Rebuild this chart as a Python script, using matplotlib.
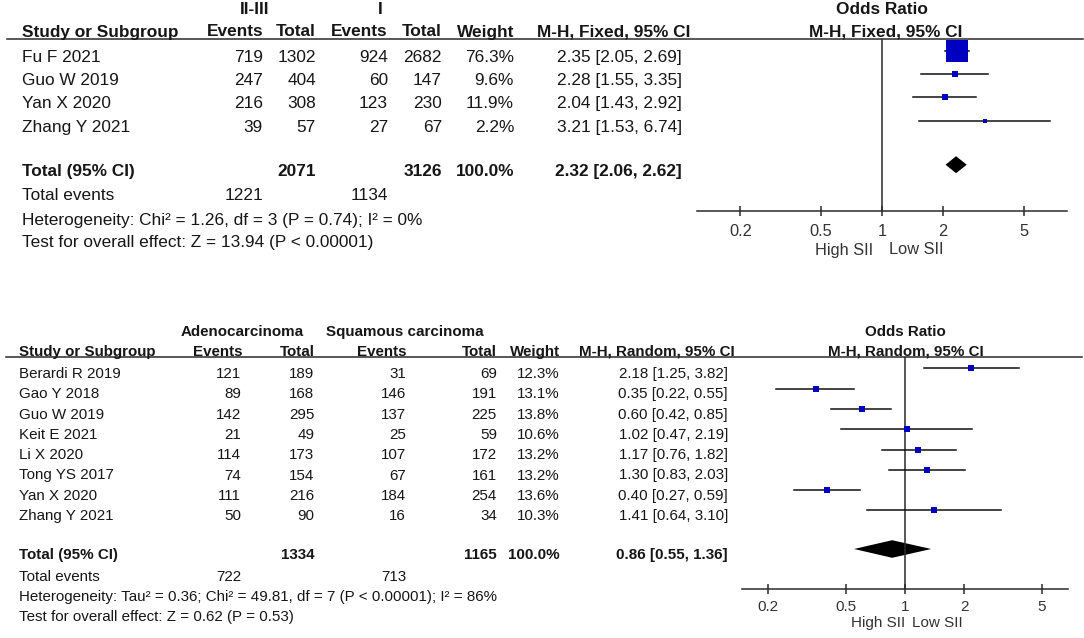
import numpy as np
import matplotlib
matplotlib.use("Agg")
import matplotlib.pyplot as plt
from matplotlib.ticker import NullLocator

plt.rcParams['font.family'] = ['Liberation Sans', 'DejaVu Sans']

# ---- data: upper plot (II-III vs I) ----
top_studies = ["Fu F 2021", "Guo W 2019", "Yan X 2020", "Zhang Y 2021"]
top_ev1 = [719, 247, 216, 39]
top_tot1 = [1302, 404, 308, 57]
top_ev2 = [924, 60, 123, 27]
top_tot2 = [2682, 147, 230, 67]
top_weight = [76.3, 9.6, 11.9, 2.2]
top_or = [2.35, 2.28, 2.04, 3.21]
top_lo = [2.05, 1.55, 1.43, 1.53]
top_hi = [2.69, 3.35, 2.92, 6.74]
top_sum_tot = [2071, 3126]
top_sum_ev = [1221, 1134]
top_pooled = [2.32, 2.06, 2.62]
top_het = "Heterogeneity: Chi² = 1.26, df = 3 (P = 0.74); I² = 0%"
top_test = "Test for overall effect: Z = 13.94 (P < 0.00001)"

# ---- data: lower plot (Adenocarcinoma vs Squamous carcinoma) ----
bot_studies = ["Berardi R 2019", "Gao Y 2018", "Guo W 2019", "Keit E 2021",
               "Li X 2020", "Tong YS 2017", "Yan X 2020", "Zhang Y 2021"]
bot_ev1 = [121, 89, 142, 21, 114, 74, 111, 50]
bot_tot1 = [189, 168, 295, 49, 173, 154, 216, 90]
bot_ev2 = [31, 146, 137, 25, 107, 67, 184, 16]
bot_tot2 = [69, 191, 225, 59, 172, 161, 254, 34]
bot_weight = [12.3, 13.1, 13.8, 10.6, 13.2, 13.2, 13.6, 10.3]
bot_or = [2.18, 0.35, 0.60, 1.02, 1.17, 1.30, 0.40, 1.41]
bot_lo = [1.25, 0.22, 0.42, 0.47, 0.76, 0.83, 0.27, 0.64]
bot_hi = [3.82, 0.55, 0.85, 2.19, 1.82, 2.03, 0.59, 3.10]
bot_sum_tot = [1334, 1165]
bot_sum_ev = [722, 713]
bot_pooled = [0.86, 0.55, 1.36]
bot_het = "Heterogeneity: Tau² = 0.36; Chi² = 49.81, df = 7 (P < 0.00001); I² = 86%"
bot_test = "Test for overall effect: Z = 0.62 (P = 0.53)"

tick_vals = [0.2, 0.5, 1, 2, 5]
tick_labels = ["0.2", "0.5", "1", "2", "5"]

TXT = '#161616'
LINE = '#2a2a2a'
BLUE = '#0000c0'

W, H = 1084, 638
fig = plt.figure(figsize=(W / 100, H / 100), dpi=100)
bg = fig.add_axes([0, 0, 1, 1])
bg.set_xlim(0, W)
bg.set_ylim(H, 0)
bg.axis('off')


def fmt_ci(o, l, h):
    return "%.2f [%.2f, %.2f]" % (o, l, h)


def forest_axes(left, right, top, bottom, x_one, px_dec, fs, pad):
    ax = fig.add_axes([left / W, 1 - bottom / H, (right - left) / W, (bottom - top) / H])
    ax.set_facecolor('none')
    ax.set_xscale('log')
    ax.set_xlim(10 ** ((left - x_one) / px_dec), 10 ** ((right - x_one) / px_dec))
    ax.set_ylim(bottom, top)
    for s in ['top', 'left', 'right']:
        ax.spines[s].set_visible(False)
    ax.spines['bottom'].set_linewidth(1.1)
    ax.spines['bottom'].set_color(LINE)
    ax.set_yticks([])
    ax.set_xticks(tick_vals)
    ax.set_xticklabels(tick_labels)
    ax.xaxis.set_minor_locator(NullLocator())
    ax.tick_params(axis='x', direction='inout', length=6.5, width=1.1, color=LINE,
                   labelsize=fs, labelcolor='#333333', pad=pad)
    ax.axvline(1, color=LINE, lw=1.1)
    return ax


def draw_panel(cfg):
    fs = cfg['fs']
    # 列見出し
    for label, xc in cfg['group_hdr']:
        bg.text(xc, cfg['hdr1'], label, ha='center', va='baseline', fontsize=fs,
                fontweight='bold', color=TXT)
    bg.text(cfg['left'], cfg['hdr2'], "Study or Subgroup", ha='left', va='baseline',
            fontsize=fs, fontweight='bold', color=TXT)
    for label, xr in zip(["Events", "Total", "Events", "Total", "Weight", cfg['method']],
                         cfg['hdr_cols']):
        bg.text(xr, cfg['hdr2'], label, ha='right', va='baseline', fontsize=fs,
                fontweight='bold', color=TXT)
    bg.text(cfg['x_one'], cfg['hdr1'], "Odds Ratio", ha='center', va='baseline',
            fontsize=fs, fontweight='bold', color=TXT)
    bg.text(cfg['x_one'] + cfg['hdr_shift'], cfg['hdr2'], cfg['method'], ha='center',
            va='baseline', fontsize=fs, fontweight='bold', color=TXT)
    bg.plot([cfg['line_x0'], cfg['line_x1']], [cfg['line_y'], cfg['line_y']],
            color=LINE, lw=1.1)

    # 各研究の行
    n = len(cfg['studies'])
    rows = [cfg['row0'] + i * cfg['step'] for i in range(n)]
    cols = cfg['cols']
    for i, y in enumerate(rows):
        bg.text(cfg['left'], y, cfg['studies'][i], ha='left', va='baseline', fontsize=fs, color=TXT)
        vals = [str(cfg['ev1'][i]), str(cfg['tot1'][i]), str(cfg['ev2'][i]),
                str(cfg['tot2'][i]), "%.1f%%" % cfg['weight'][i],
                fmt_ci(cfg['or'][i], cfg['lo'][i], cfg['hi'][i])]
        for v, xr in zip(vals, cols):
            bg.text(xr, y, v, ha='right', va='baseline', fontsize=fs, color=TXT)

    # 合計
    yt = cfg['total_y']
    bg.text(cfg['left'], yt, "Total (95% CI)", ha='left', va='baseline', fontsize=fs,
            fontweight='bold', color=TXT)
    pooled = cfg['pooled']
    for v, xr in zip([str(cfg['sum_tot'][0]), str(cfg['sum_tot'][1]), "100.0%",
                      fmt_ci(*pooled)], [cols[1], cols[3], cols[4], cols[5]]):
        bg.text(xr, yt, v, ha='right', va='baseline', fontsize=fs, fontweight='bold', color=TXT)
    ye = cfg['events_y']
    bg.text(cfg['left'], ye, "Total events", ha='left', va='baseline', fontsize=fs, color=TXT)
    bg.text(cols[0], ye, str(cfg['sum_ev'][0]), ha='right', va='baseline', fontsize=fs, color=TXT)
    bg.text(cols[2], ye, str(cfg['sum_ev'][1]), ha='right', va='baseline', fontsize=fs, color=TXT)
    bg.text(cfg['left'], cfg['het_y'], cfg['het'], ha='left', va='baseline', fontsize=fs, color=TXT)
    bg.text(cfg['left'], cfg['test_y'], cfg['test'], ha='left', va='baseline', fontsize=fs, color=TXT)

    # フォレストプロット
    ax = forest_axes(cfg['ax_l'], cfg['ax_r'], cfg['line_y'], cfg['axis_y'],
                     cfg['x_one'], cfg['px_dec'], cfg['tick_fs'], cfg['pad'])
    off = cfg['mark_off']
    for i, y in enumerate(rows):
        ym = y - off
        ax.plot([cfg['lo'][i], cfg['hi'][i]], [ym, ym], color='#111111', lw=1.1)
        # 重みに応じた四角の大きさ (px)
        side = max(3.5, 1.26 * cfg['weight'][i] ** 0.65)
        ax.plot(cfg['or'][i], ym, 's', ms=0.72 * side, color=BLUE, mec=BLUE, mew=0)
    yd = yt - off
    h = cfg['diam_h']
    ax.fill([pooled[1], pooled[0], pooled[2], pooled[0]], [yd, yd - h, yd, yd + h],
            color='black', lw=0)
    bg.text(cfg['sii'][0], cfg['sii_y'], "High SII", ha='right', va='center',
            fontsize=cfg['tick_fs'], color='#333333')
    bg.text(cfg['sii'][1], cfg['sii_y'], "Low SII", ha='left', va='center',
            fontsize=cfg['tick_fs'], color='#333333')


draw_panel(dict(
    fs=12.4, tick_fs=11.8, left=21.5,
    group_hdr=[("II-III", 255), ("I", 380)],
    method="M-H, Fixed, 95% CI",
    hdr1=13.5, hdr2=36.5, hdr_cols=[263, 316, 388, 442, 514, 690], hdr_shift=4,
    line_x0=7, line_x1=1083, line_y=38.5,
    studies=top_studies, ev1=top_ev1, tot1=top_tot1, ev2=top_ev2, tot2=top_tot2,
    weight=top_weight, lo=top_lo, hi=top_hi,
    row0=61.7, step=23.3, cols=[263, 316, 388, 442, 514, 682],
    total_y=175.7, events_y=200.5, het_y=224.5, test_y=247,
    sum_tot=top_sum_tot, sum_ev=top_sum_ev, pooled=top_pooled,
    het=top_het, test=top_test,
    ax_l=697, ax_r=1067, axis_y=211, x_one=882, px_dec=202.6, pad=6,
    mark_off=11, diam_h=8.5,
    sii=(873, 889), sii_y=250,
    **{'or': top_or}))

draw_panel(dict(
    fs=10.9, tick_fs=11, left=19.3,
    group_hdr=[("Adenocarcinoma", 241.7), ("Squamous carcinoma", 405)],
    method="M-H, Random, 95% CI",
    hdr1=336, hdr2=356, hdr_cols=[242, 315, 407, 497, 560, 735], hdr_shift=1,
    line_x0=6, line_x1=1082, line_y=357,
    studies=bot_studies, ev1=bot_ev1, tot1=bot_tot1, ev2=bot_ev2, tot2=bot_tot2,
    weight=bot_weight, lo=bot_lo, hi=bot_hi,
    row0=378, step=20.3, cols=[241, 314.5, 406, 497, 560, 728],
    total_y=558.7, events_y=581, het_y=601.4, test_y=621.4,
    sum_tot=bot_sum_tot, sum_ev=bot_sum_ev, pooled=bot_pooled,
    het=bot_het, test=bot_test,
    ax_l=742, ax_r=1068, axis_y=589, x_one=905, px_dec=196, pad=4.5,
    mark_off=9.7, diam_h=8.8,
    sii=(905, 912), sii_y=623,
    **{'or': bot_or}))

fig.savefig("out.png", dpi=100)
